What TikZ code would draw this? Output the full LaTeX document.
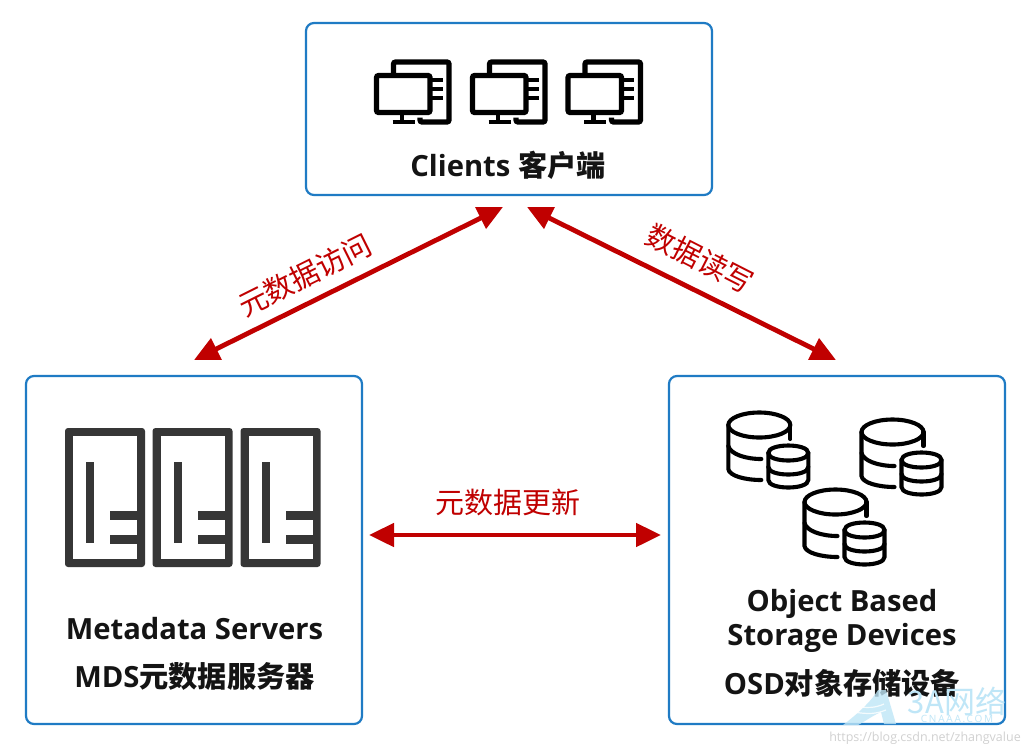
\documentclass[tikz,border=0pt]{standalone}
\usepackage{fontspec}
\setmainfont{Open Sans}
\newfontfamily\cjk{Noto Sans CJK SC}
\usetikzlibrary{arrows.meta}
\definecolor{boxblue}{HTML}{1F7BC4}
\definecolor{arrred}{HTML}{C00000}
\definecolor{srv}{HTML}{363636}
\definecolor{wm}{HTML}{BFE6F7}
\tikzset{
  x=1pt,y=-1pt,
  panel/.style={draw=boxblue,line width=2.2pt,rounded corners=8pt,fill=white,inner sep=0pt,outer sep=0pt,anchor=north west},
  redarrow/.style={draw=arrred,line width=4.8pt,{Triangle[length=25pt,width=23pt]}-{Triangle[length=25pt,width=23pt]}},
  redlabel/.style={text=arrred,font=\cjk\fontsize{29}{32}\selectfont,inner sep=0pt},
  boldlabel/.style={text=black!92,font=\bfseries\fontsize{29.2}{34}\selectfont,inner sep=0pt},
  pcicon/.pic={
    \draw[black,line width=5.2pt,rounded corners=2pt,fill=white] (-27,-20) rectangle (26.5,17);
    \draw[black,line width=5.2pt,rounded corners=2pt] (-10,-22.5) |- (45.5,-33.5) -- (45.5,26.5) -- (16.5,26.5) -- (16.5,22);
    \draw[black,line width=4pt] (28,-16) -- (39,-16) (28,-7) -- (39,-7) (28,2) -- (39,2);
    \draw[black,line width=4.8pt] (-1.5,19) -- (-1.5,26.5) (-11,26.5) -- (11,26.5);
  },
  srvicon/.pic={
    \fill[srv,rounded corners=3pt] (-4,-4) rectangle (76,135);
    \fill[white] (4,4) rectangle (68,127);
    \fill[srv] (17,30) rectangle (25,111);
    \fill[srv] (41,79) rectangle (70,88);
    \fill[srv] (41,103) rectangle (70,112);
  },
  dbicon/.pic={
    \begin{scope}[black,line width=4.1pt,line cap=round]
    \draw (0,0) ellipse [x radius=31,y radius=12.5];
    \draw (-31,0) -- (-31,44) .. controls (-30,51) and (-14,55) .. (2,55);
    \draw (-31,21) .. controls (-29,29) and (-14,34) .. (2,34);
    \draw (31,0) -- (31,14);
    \draw[fill=white] (9,28) -- (9,55) .. controls (9,65) and (49,65) .. (49,55) -- (49,28) .. controls (49,18) and (9,18) .. (9,28) -- cycle;
    \draw (9,28) .. controls (9,38) and (49,38) .. (49,28);
    \draw (9,42) .. controls (9,52) and (49,52) .. (49,42);
    \end{scope}
  },
}
\begin{document}
\begin{tikzpicture}
\useasboundingbox (0,0) rectangle (1024,753);
\fill[white] (0,0) rectangle (1024,753);
% panels
\node[panel,minimum width=406pt,minimum height=172pt] (clients) at (306,23) {};
\node[panel,minimum width=336pt,minimum height=348pt] (mds) at (26,376) {};
\node[panel,minimum width=336pt,minimum height=348pt] (osd) at (669,376) {};
% icons
\pic at (403.5,95.5) {pcicon};
\pic at (499.5,95.5) {pcicon};
\pic at (595,95.5) {pcicon};
\pic at (69,432) {srvicon};
\pic at (156.5,432) {srvicon};
\pic at (244.5,432) {srvicon};
\pic at (759.3,425) {dbicon};
\pic at (892.5,432) {dbicon};
\pic at (835.5,502) {dbicon};
% titles
\node[boldlabel] (clientstext) at (508,165) {Clients {\cjk\bfseries 客户端}};
\node[boldlabel] (mdstext1) at (194.5,629) {Metadata Servers};
\node[boldlabel] (mdstext2) at (194.5,676) {MDS{\cjk\bfseries 元数据服务器}};
\node[boldlabel] (osdtext1) at (842,604) {Object Based};
\node[boldlabel] (osdtext2) at (842,638) {Storage Devices};
\node[boldlabel] (osdtext3) at (842,683) {OSD{\cjk\bfseries 对象存储设备}};
% connectors
\coordinate (cl) at (503,207);
\coordinate (cr) at (527,207);
\coordinate (ml) at (194,360);
\coordinate (or) at (836,360);
\coordinate (mh) at (369,535);
\coordinate (oh) at (661,535);
\draw[redarrow] (ml) -- (cl);
\draw[redarrow] (or) -- (cr);
\draw[redarrow] (mh) -- (oh);
\node[redlabel,rotate=26.5] (lab1) at (305,275) {元数据访问};
\node[redlabel,rotate=-27] (lab2) at (700,259) {数据读写};
\node[redlabel] (lab3) at (508,502) {元数据更新};
% watermark
\begin{scope}[opacity=.8]
\fill[wm] (843,725) .. controls (860,712) and (872,700) .. (878,690) -- (886,690) -- (896,724) -- (884,724) -- (881,712) .. controls (872,716) and (864,722) .. (858,725) -- cycle;
\draw[white,line width=1.2pt] (846,708) .. controls (856,703) and (866,712) .. (884,704) (846,714) .. controls (856,709) and (866,718) .. (886,710);
\end{scope}
\node[text=wm,font=\cjk\fontsize{31}{34}\selectfont,inner sep=0pt] (wm1) at (957,701) {3A网络};
\node[text=wm,font=\fontsize{10}{11}\addfontfeature{LetterSpace=18}\selectfont,inner sep=0pt] (wm2) at (957,719) {CNAAA.COM};
\node[text=black!18,font=\fontsize{12.5}{14}\selectfont,inner sep=0pt] (wm3) at (925,738) {https://blog.csdn.net/zhangvalue};
\end{tikzpicture}
\end{document}
